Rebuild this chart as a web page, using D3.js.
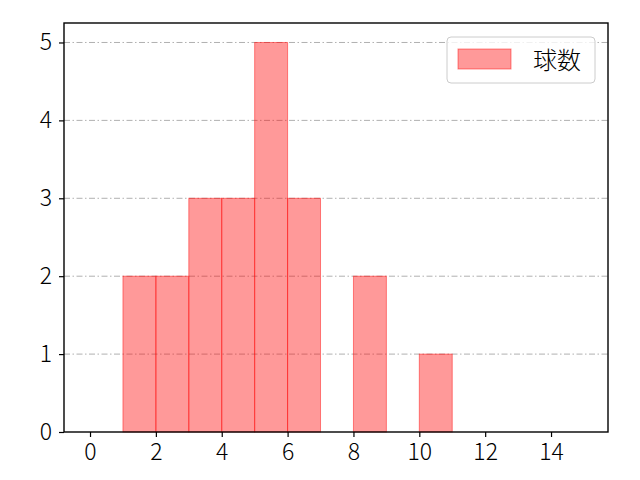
<!DOCTYPE html>
<html>
<head>
<meta charset="utf-8">
<script src="https://cdn.jsdelivr.net/npm/d3@7"></script>
<style>
  body { margin: 0; background: #fff; }
  svg { display: block; }
</style>
</head>
<body>
<div id="chart"></div>
<script>
// histogram bins (start of each unit-wide bin) and counts
const binStarts = [1, 2, 3, 4, 5, 6, 7, 8, 9, 10];
const counts = [2, 2, 3, 3, 5, 3, 0, 2, 0, 1];
const xTicks = [0, 2, 4, 6, 8, 10, 12, 14];
const yTicks = [0, 1, 2, 3, 4, 5];
const seriesName = "球数";

const FONT = "'Noto Sans CJK JP', 'Noto Sans', sans-serif";
const W = 640, H = 480;
const margin = { top: 23, right: 32, bottom: 48, left: 64 };
const width = W - margin.left - margin.right,
      height = H - margin.top - margin.bottom;

const x = d3.scaleLinear().domain([-0.79, 15.73]).range([0, width]);
const y = d3.scaleLinear().domain([0, 5.25]).range([height, 0]);

const svg = d3.select("#chart").append("svg")
  .attr("width", W)
  .attr("height", H)
  .append("g")
  .attr("transform", `translate(${margin.left},${margin.top})`);

// grid lines
svg.selectAll(".grid")
  .data(yTicks.filter(d => d > 0))
  .join("line")
  .attr("class", "grid")
  .attr("x1", 0)
  .attr("x2", width)
  .attr("y1", d => y(d))
  .attr("y2", d => y(d))
  .attr("stroke", "#b0b0b0")
  .attr("stroke-width", 1)
  .attr("stroke-dasharray", "6,2.5,1.5,2.5");

// bars
const bins = binStarts.map((s, i) => ({ x0: s, x1: s + 1, n: counts[i] })).filter(d => d.n > 0);
svg.selectAll(".bar")
  .data(bins)
  .join("rect")
  .attr("class", "bar")
  .attr("x", d => x(d.x0))
  .attr("y", d => y(d.n))
  .attr("width", d => x(d.x1) - x(d.x0))
  .attr("height", d => y(0) - y(d.n))
  .attr("fill", "#ff0000")
  .attr("fill-opacity", 0.4)
  .attr("stroke", "#ff0000")
  .attr("stroke-opacity", 0.45)
  .attr("stroke-width", 1);

// axes
const xAxis = svg.append("g")
  .attr("transform", `translate(0,${height})`)
  .call(d3.axisBottom(x).tickValues(xTicks).tickSize(5).tickPadding(7).tickFormat(d3.format("d")));
const yAxis = svg.append("g")
  .call(d3.axisLeft(y).tickValues(yTicks).tickSize(5).tickPadding(7).tickFormat(d3.format("d")));

[xAxis, yAxis].forEach(a => {
  a.attr("font-family", FONT).attr("font-size", 23).attr("font-weight", 300);
  a.select(".domain").remove();
  a.selectAll(".tick line").attr("stroke", "#000").attr("stroke-width", 1.2);
  a.selectAll(".tick text").attr("fill", "#000");
});

// frame
svg.append("rect")
  .attr("x", 0)
  .attr("y", 0)
  .attr("width", width)
  .attr("height", height)
  .attr("fill", "none")
  .attr("stroke", "#000")
  .attr("stroke-width", 1.4);

// legend
const legend = svg.append("g")
  .attr("transform", `translate(${width - 161},${14})`);
legend.append("rect")
  .attr("width", 148)
  .attr("height", 46)
  .attr("rx", 4)
  .attr("fill", "#fff")
  .attr("fill-opacity", 0.8)
  .attr("stroke", "#cccccc");
legend.append("rect")
  .attr("x", 11)
  .attr("y", 12)
  .attr("width", 53)
  .attr("height", 20)
  .attr("fill", "#ff0000")
  .attr("fill-opacity", 0.4)
  .attr("stroke", "#ff0000")
  .attr("stroke-opacity", 0.45);
legend.append("text")
  .attr("x", 86)
  .attr("y", 32)
  .attr("font-family", FONT)
  .attr("font-size", 24)
  .attr("font-weight", 300)
  .attr("fill", "#000")
  .text(seriesName);
</script>
</body>
</html>
